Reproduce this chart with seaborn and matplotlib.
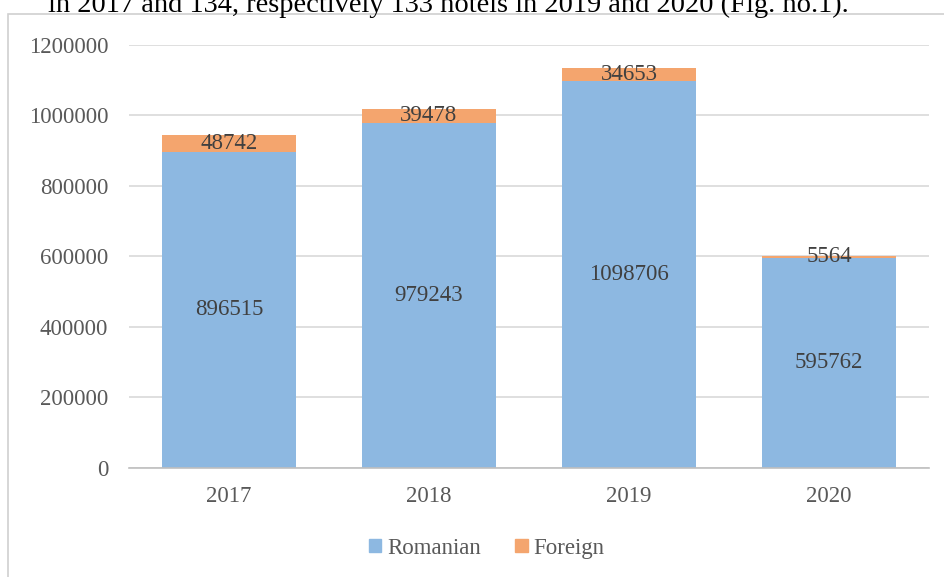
import numpy as np
import pandas as pd
import seaborn as sns
import matplotlib.pyplot as plt
from matplotlib.patches import Rectangle

# ---------------------------------------------------------
# Tourist arrivals in hotels, by origin
# ---------------------------------------------------------
years = ["2017", "2018", "2019", "2020"]
romanian = [896515, 979243, 1098706, 595762]
foreign = [48742, 39478, 34653, 5564]
yticks = [0, 200000, 400000, 600000, 800000, 1000000, 1200000]

df = pd.DataFrame({"Year": years, "Romanian": romanian, "Foreign": foreign})
df["Total"] = df["Romanian"] + df["Foreign"]

blue = "#8DB8E1"
orange = "#F4A56E"

# ---------------------------------------------------------
# Styling
# ---------------------------------------------------------
sns.set_style("white")
plt.rcParams["font.family"] = ["Liberation Serif", "DejaVu Serif"]
fs = 16.5

fig = plt.figure(figsize=(9.45, 5.77), dpi=100)
ax = fig.add_axes([0.1365, 0.189, 0.8465, 0.733])

# stacked: total (foreign colour) underneath, romanian on top of it
sns.barplot(data=df, x="Year", y="Total", color=orange, width=0.67,
            saturation=1, linewidth=0, ax=ax, zorder=2)
sns.barplot(data=df, x="Year", y="Romanian", color=blue, width=0.67,
            saturation=1, linewidth=0, ax=ax, zorder=3)

ax.set_ylim(0, 1200000)
ax.set_yticks(yticks)
ax.set_yticklabels([str(v) for v in yticks])
ax.set_xlim(-0.5, 3.5)
ax.yaxis.grid(True, color="#D9D9D9", linewidth=1.2, zorder=0)
ax.set_axisbelow(True)
for s in ["top", "right", "left"]:
    ax.spines[s].set_visible(False)
ax.spines["bottom"].set_color("#BFBFBF")
ax.spines["bottom"].set_linewidth(1.2)
ax.spines["bottom"].set_zorder(4)
ax.tick_params(axis="both", length=0, labelsize=fs, labelcolor="#595959")
ax.tick_params(axis="y", pad=15)
ax.tick_params(axis="x", pad=13)
ax.set_xlabel("")
ax.set_ylabel("")

# data labels at segment centres
for i, (r, f) in enumerate(zip(romanian, foreign)):
    ax.text(i, r / 2, str(r), ha="center", va="center", fontsize=fs,
            color="#404040", zorder=5)
    ax.text(i, r + f / 2, str(f), ha="center", va="center", fontsize=fs,
            color="#404040", zorder=5)

# legend
handles = [Rectangle((0, 0), 1, 1, color=blue), Rectangle((0, 0), 1, 1, color=orange)]
leg = fig.legend(handles, ["Romanian", "Foreign"], loc="center",
                 bbox_to_anchor=(0.515, 0.05), ncol=2, frameon=False,
                 fontsize=fs, handlelength=0.55, handleheight=0.55,
                 handletextpad=0.25, columnspacing=1.5)
for t in leg.get_texts():
    t.set_color("#595959")

# chart frame and surrounding document text
fig.patches.append(Rectangle((8 / 945, -0.1), 1.2, 1 - 14 / 577 + 0.1,
                             transform=fig.transFigure, fill=False,
                             edgecolor="#D0D0D0", linewidth=1.2))
fig.text(48 / 945, 1 - 12 / 577,
         "in 2017 and 134, respectively 133 hotels in 2019 and 2020 (Fig. no.1).",
         fontsize=20.5, color="black", ha="left", va="baseline")

fig.savefig("out.png", dpi=100)
